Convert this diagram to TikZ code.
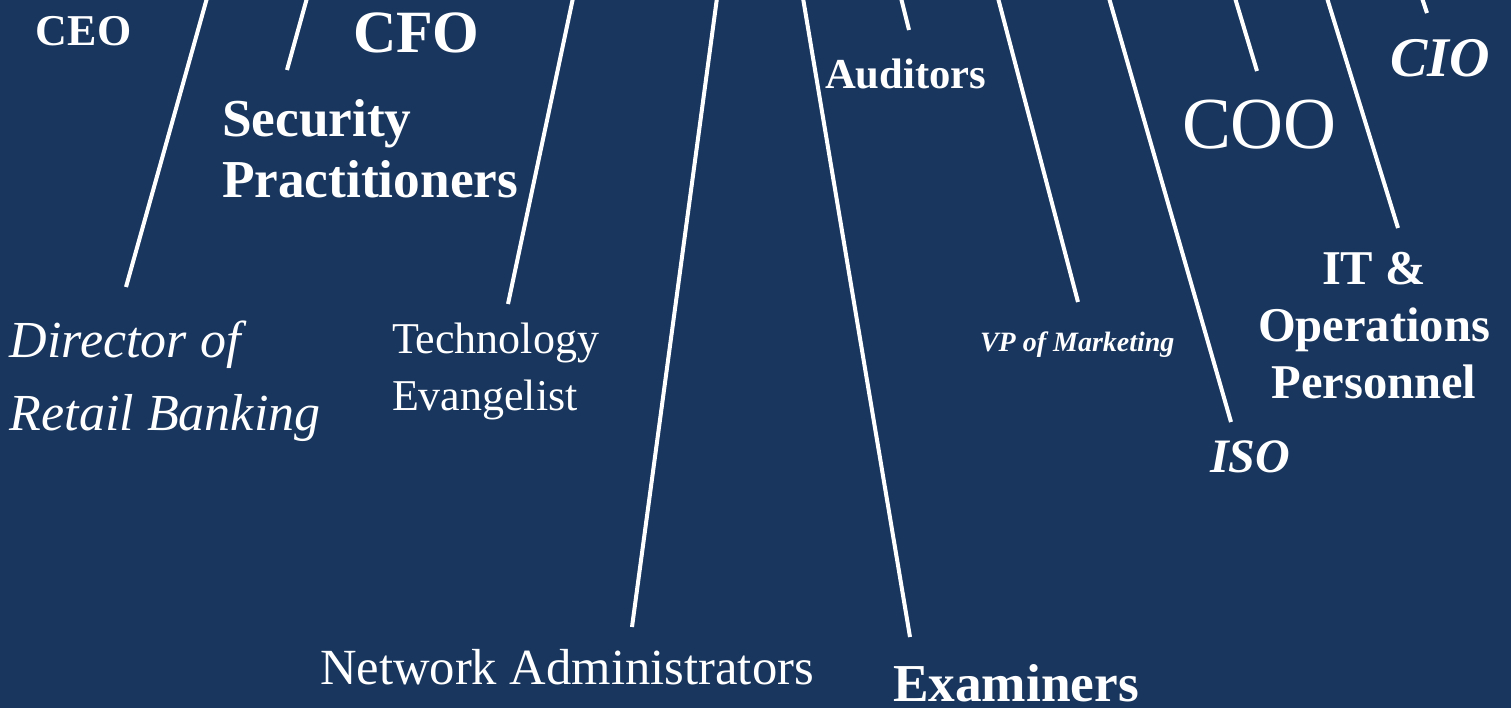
\documentclass[tikz,border=0pt]{standalone}
\usepackage{fontspec}
\setmainfont{Liberation Serif}
\definecolor{bg}{RGB}{24,54,94}
\newcommand\myfs[2]{\fontsize{#1}{#2}\selectfont}
\begin{document}
\begin{tikzpicture}[x=0.75pt,y=-0.75pt,
  lbl/.style={text=white, inner sep=0pt, outer sep=0pt},
  ray/.style={white, line width=3pt, line cap=butt}]
\fill[bg] (0,0) rectangle (1511,708);
\useasboundingbox (0,0) rectangle (1511,708);
\clip (0,0) rectangle (1511,708);

% labels (multi-line nodes: base = baseline of last line)
\node[lbl, anchor=base west, font=\bfseries\myfs{33}{40}] (ceo) at (36,45) {CEO};
\node[lbl, anchor=base west, font=\bfseries\myfs{45}{54}] (cfo) at (353,52) {CFO};
\node[lbl, anchor=base west, align=left, font=\bfseries\myfs{40}{45.75}] (sec) at (222,197) {Security\\Practitioners};
\node[lbl, anchor=base west, align=left, font=\itshape\myfs{39}{54.75}] (dir) at (10,430) {Director of\\Retail Banking};
\node[lbl, anchor=base west, align=left, font=\myfs{33}{42.75}] (tech) at (392,410) {Technology\\Evangelist};
\node[lbl, anchor=base west, font=\myfs{38}{45}] (net) at (320,684) {Network Administrators};
\node[lbl, anchor=base west, font=\bfseries\myfs{40}{48}] (exam) at (893,701) {Examiners};
\node[lbl, anchor=base west, font=\bfseries\myfs{32}{38}] (aud) at (825,88) {Auditors};
\node[lbl, anchor=base west, font=\myfs{55}{66}] (coo) at (1182,148) {COO};
\node[lbl, anchor=base west, font=\bfseries\itshape\myfs{42}{50}] (cio) at (1390,76) {CIO};
\node[lbl, anchor=base west, font=\bfseries\itshape\myfs{21}{25}] (vp) at (980,351) {VP of Marketing};
\node[lbl, anchor=base, align=center, font=\bfseries\myfs{36.4}{42.4}] (itops) at (1374,398) {IT \&\\Operations\\Personnel};
\node[lbl, anchor=base west, font=\bfseries\itshape\myfs{36}{43}] (iso) at (1210,472) {ISO};

% ray end points
\coordinate (dirT) at (207,-2);  \coordinate (dirB) at (126,287);
\coordinate (secT) at (307,-2);  \coordinate (secB) at (287,70);
\coordinate (techT) at (573,-2); \coordinate (techB) at (508,304);
\coordinate (netT) at (717,-2);  \coordinate (netB) at (632,627);
\coordinate (examT) at (803,-2); \coordinate (examB) at (910,637);
\coordinate (audT) at (901,-2);  \coordinate (audB) at (909,30);
\coordinate (vpT) at (998,-2);   \coordinate (vpB) at (1078,302);
\coordinate (isoT) at (1109,-2); \coordinate (isoB) at (1231,422);
\coordinate (cooT) at (1235,-2); \coordinate (cooB) at (1257,71);
\coordinate (itT) at (1327,-2);  \coordinate (itB) at (1398,228);
\coordinate (cioT) at (1422,-2); \coordinate (cioB) at (1427,13);

\foreach \r in {dir,sec,tech,net,exam,aud,vp,iso,coo,it,cio}
  \draw[ray] (\r T) -- (\r B);
\end{tikzpicture}
\end{document}
